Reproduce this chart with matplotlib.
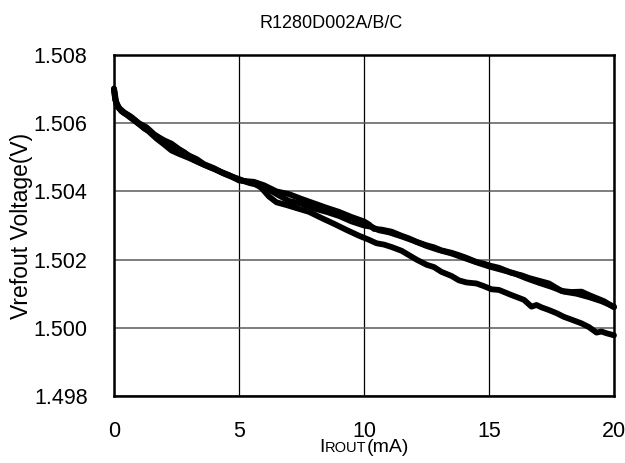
import matplotlib
matplotlib.use("Agg")
import matplotlib.pyplot as plt
from matplotlib.offsetbox import TextArea, HPacker, AnchoredOffsetbox

plt.rcParams['font.family'] = ['Liberation Sans', 'DejaVu Sans']

# Data (Vrefout vs IROUT)
x_a = [0, 0.05, 0.1, 0.25, 0.4, 0.6, 0.8, 1.0, 1.2, 1.4, 1.6, 1.8, 2.0, 2.3, 2.6,
       3.0, 3.3, 3.6, 4.0, 4.3, 4.6, 5.0, 5.3, 5.6, 6.0, 6.5, 7.0, 7.5, 8.0, 8.5,
       9.0, 9.5, 10.0, 10.2, 10.4, 10.7, 11.1, 11.5, 11.8, 12.1, 12.5, 12.8, 13.1,
       13.5, 13.8, 14.1, 14.5, 14.8, 15.0, 15.4, 15.9, 16.3, 16.6, 17.0, 17.4,
       17.9, 18.3, 18.7, 19.0, 19.3, 19.6, 20.0]
v_a = [1.50702, 1.50680, 1.50655, 1.50640, 1.50630, 1.50622, 1.50610, 1.50598,
       1.50585, 1.50578, 1.50565, 1.50558, 1.50550, 1.50540, 1.50524, 1.50505,
       1.50495, 1.50480, 1.50468, 1.50456, 1.50448, 1.50432, 1.50430, 1.50428,
       1.50418, 1.50400, 1.50392, 1.50378, 1.50365, 1.50352, 1.50340, 1.50325,
       1.50312, 1.50303, 1.50290, 1.50288, 1.50282, 1.50270, 1.50262, 1.50252,
       1.50242, 1.50236, 1.50227, 1.50220, 1.50213, 1.50205, 1.50193, 1.50188,
       1.50183, 1.50176, 1.50161, 1.50154, 1.50146, 1.50138, 1.50130, 1.50108,
       1.50105, 1.50106, 1.50096, 1.50087, 1.50078, 1.50060]

x_b = [0, 0.05, 0.15, 0.3, 0.5, 0.8, 1.1, 1.4, 1.7, 2.0, 2.3, 2.6, 3.0, 3.4, 3.8,
       4.2, 4.6, 5.0, 5.4, 5.8, 6.2, 6.6, 7.0, 7.5, 8.0, 8.5, 9.0, 9.5, 10.0, 10.3,
       10.6, 11.0, 11.5, 12.0, 12.5, 13.0, 13.5, 14.0, 14.5, 15.0, 15.5, 16.0, 16.5,
       17.0, 17.5, 18.0, 18.5, 19.0, 19.5, 20.0]
v_b = [1.50698, 1.50670, 1.50648, 1.50635, 1.50625, 1.50608, 1.50592, 1.50575,
       1.50555, 1.50538, 1.50520, 1.50510, 1.50498, 1.50485, 1.50472, 1.50460,
       1.50447, 1.50436, 1.50425, 1.50418, 1.50405, 1.50388, 1.50372, 1.50364,
       1.50350, 1.50340, 1.50328, 1.50312, 1.50300, 1.50296, 1.50286, 1.50280,
       1.50268, 1.50255, 1.50240, 1.50228, 1.50218, 1.50205, 1.50192, 1.50180,
       1.50170, 1.50160, 1.50145, 1.50132, 1.50120, 1.50106, 1.50100, 1.50090,
       1.50078, 1.50062]

x_c = [0, 0.05, 0.2, 0.4, 0.7, 1.0, 1.3, 1.6, 2.0, 2.4, 2.8, 3.2, 3.6, 4.0, 4.4,
       4.8, 5.2, 5.6, 5.9, 6.2, 6.5, 6.9, 7.3, 7.8, 8.3, 8.8, 9.3, 9.8, 10.2, 10.5,
       10.8, 11.1, 11.5, 11.8, 12.1, 12.5, 12.8, 13.1, 13.5, 13.8, 14.1, 14.5, 14.8,
       15.1, 15.4, 15.9, 16.4, 16.7, 16.9, 17.1, 17.4, 17.7, 18.0, 18.3, 18.7, 19.0,
       19.3, 19.5, 19.7, 20.0]
v_c = [1.50700, 1.50668, 1.50645, 1.50632, 1.50618, 1.50600, 1.50588, 1.50568,
       1.50548, 1.50530, 1.50515, 1.50492, 1.50478, 1.50466, 1.50452, 1.50440,
       1.50430, 1.50424, 1.50410, 1.50385, 1.50368, 1.50360, 1.50351, 1.50340,
       1.50322, 1.50305, 1.50287, 1.50270, 1.50258, 1.50248, 1.50244, 1.50237,
       1.50226, 1.50213, 1.50200, 1.50185, 1.50178, 1.50164, 1.50152, 1.50139,
       1.50133, 1.50130, 1.50122, 1.50113, 1.50111, 1.50096, 1.50082, 1.50062,
       1.50067, 1.50060, 1.50052, 1.50043, 1.50032, 1.50024, 1.50013, 1.50002,
       1.49986, 1.49989, 1.49984, 1.49978]

x_ticks = [0, 5, 10, 15, 20]
y_ticks = [1.498, 1.500, 1.502, 1.504, 1.506, 1.508]

fig = plt.figure(figsize=(6.25, 4.63), dpi=100)
ax = fig.add_axes([0.1824, 0.1447, 0.8, 0.7365])

for xs, vs in [(x_a, v_a), (x_b, v_b), (x_c, v_c)]:
    ax.plot(xs, vs, color='black', lw=4.2, solid_joinstyle='round',
            solid_capstyle='round', zorder=3, clip_on=False)

ax.set_xlim(0, 20)
ax.set_ylim(1.498, 1.508)
ax.set_xticks(x_ticks)
ax.set_yticks(y_ticks)
ax.set_yticklabels(['%.3f' % v for v in y_ticks])
ax.tick_params(length=0, labelsize=15.5)
ax.tick_params(axis='y', pad=19)
ax.tick_params(axis='x', pad=18)
ax.xaxis.grid(True, color='black', lw=0.9)
ax.yaxis.grid(True, color='#5a5a5a', lw=1.1)
for s in ax.spines.values():
    s.set_linewidth(1.8)

fig.text(403 / 625, 1 - 27.5 / 463, 'R1280D002A/B/C', fontsize=13,
         ha='right', va='baseline')
ax.set_ylabel('Vrefout Voltage(V)', fontsize=16.5)
ax.yaxis.set_label_coords(-0.162, 0.5)

# x label with small capitals "ROUT"
parts = [TextArea('I', textprops=dict(size=14)),
         TextArea('ROUT', textprops=dict(size=10.5)),
         TextArea('(mA)', textprops=dict(size=14))]
box = HPacker(children=parts, align='baseline', pad=0, sep=0)
anchored = AnchoredOffsetbox(loc='upper center', child=box, frameon=False,
                             bbox_to_anchor=(0.5, -0.127),
                             bbox_transform=ax.transAxes, borderpad=0, pad=0)
ax.add_artist(anchored)

fig.savefig('out.png', dpi=100)
